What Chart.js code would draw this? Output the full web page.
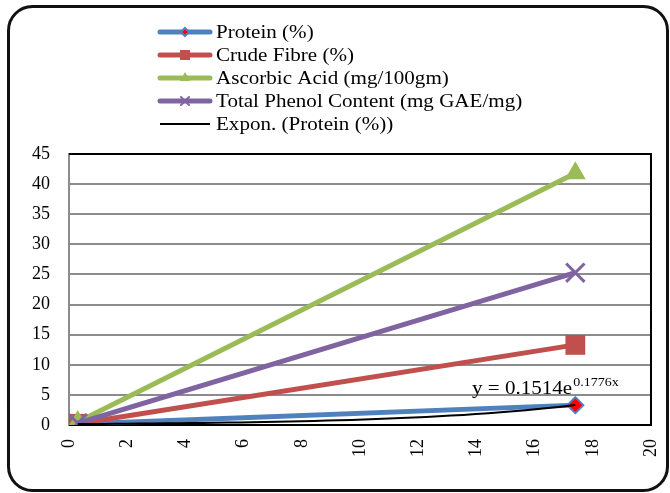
<!DOCTYPE html>
<html>
<head>
<meta charset="utf-8">
<script src="https://cdn.jsdelivr.net/npm/chart.js@4/dist/chart.umd.min.js"></script>
<style>
  html, body { margin: 0; padding: 0; background: #fff; }
  #wrap { width: 670px; height: 493px; position: relative; }
</style>
</head>
<body>
<div id="wrap"><canvas id="c" width="670" height="493"></canvas></div>
<script>
// Sample positions on the x axis
const xValues = [0.3, 17.4];
// Measured values
const protein = [0.16, 3.3];
const crudeFibre = [0.2, 13.3];
const ascorbicAcid = [0.5, 41.8];
const totalPhenol = [0.3, 25.3];
// Exponential trendline coefficients for Protein (%): y = a·e^(b·x)
const trendA = 0.1514;
const trendB = 0.1776;
// Axis ticks
const yTicks = [0, 5, 10, 15, 20, 25, 30, 35, 40, 45];
const xTicks = [0, 2, 4, 6, 8, 10, 12, 14, 16, 18, 20];

const seriesNames = ['Protein (%)', 'Crude Fibre (%)', 'Ascorbic Acid (mg/100gm)', 'Total Phenol Content (mg GAE/mg)', 'Expon. (Protein (%))'];

const toPoints = vals => vals.map((v, i) => ({ x: xValues[i], y: v }));

// Trendline sampled along the fitted curve between the first and last sample
const trendPoints = [];
{
  const steps = 40;
  const x0 = xValues[0], x1 = xValues[xValues.length - 1];
  for (let i = 0; i <= steps; i++) {
    const x = x0 + (x1 - x0) * i / steps;
    trendPoints.push({ x, y: trendA * Math.exp(trendB * x) });
  }
}

const SERIF = '"Liberation Serif", "Times New Roman", serif';
const BLUE = '#4F81BD', RED = '#C0504D', GREEN = '#9BBB59', PURPLE = '#8064A2';
const TEXT_STRETCH = 1.17;

// Draws a marker for the custom legend
function drawMarker(ctx, kind, x, y) {
  ctx.save();
  if (kind === 'diamond') {
    ctx.fillStyle = '#ff0000';
    ctx.strokeStyle = BLUE; ctx.lineWidth = 2;
    ctx.beginPath();
    ctx.moveTo(x, y - 4); ctx.lineTo(x + 4, y); ctx.lineTo(x, y + 4); ctx.lineTo(x - 4, y); ctx.closePath();
    ctx.fill(); ctx.stroke();
  } else if (kind === 'square') {
    ctx.fillStyle = RED;
    ctx.fillRect(x - 5, y - 5, 10, 10);
  } else if (kind === 'triangle') {
    ctx.fillStyle = GREEN;
    ctx.beginPath();
    ctx.moveTo(x, y - 6); ctx.lineTo(x + 5, y + 3); ctx.lineTo(x - 5, y + 3); ctx.closePath();
    ctx.fill();
  } else if (kind === 'cross') {
    ctx.strokeStyle = PURPLE; ctx.lineWidth = 2;
    ctx.beginPath();
    ctx.moveTo(x - 4, y - 4); ctx.lineTo(x + 4, y + 4);
    ctx.moveTo(x + 4, y - 4); ctx.lineTo(x - 4, y + 4);
    ctx.stroke();
  }
  ctx.restore();
}

// Text drawn slightly widened, like the rest of the figure's lettering
function wideText(ctx, text, x, y) {
  ctx.save();
  ctx.translate(x, y);
  ctx.scale(TEXT_STRETCH, 1);
  ctx.fillText(text, 0, 0);
  const w = ctx.measureText(text).width * TEXT_STRETCH;
  ctx.restore();
  return w;
}

const frameAndLegend = {
  id: 'frameAndLegend',
  beforeDraw(chart) {
    const ctx = chart.ctx;
    ctx.save();
    ctx.fillStyle = '#fff';
    ctx.fillRect(0, 0, chart.width, chart.height);
    ctx.restore();
  },
  beforeDatasetsDraw(chart) {
    // black plot border on top, right and bottom
    const { ctx, chartArea: a } = chart;
    ctx.save();
    ctx.strokeStyle = '#000';
    ctx.lineWidth = 2;
    ctx.beginPath();
    ctx.moveTo(a.left, a.top); ctx.lineTo(a.right, a.top); ctx.lineTo(a.right, a.bottom); ctx.lineTo(a.left, a.bottom);
    ctx.stroke();
    ctx.restore();
  },
  afterDraw(chart) {
    const ctx = chart.ctx;
    // rounded outer frame
    ctx.save();
    ctx.strokeStyle = '#111';
    ctx.lineWidth = 3;
    ctx.beginPath();
    ctx.roundRect(8.5, 6.5, 659, 484, 24);
    ctx.stroke();
    ctx.restore();

    // legend
    const rows = [
      { color: BLUE, width: 5, marker: 'diamond' },
      { color: RED, width: 5, marker: 'square' },
      { color: GREEN, width: 5, marker: 'triangle' },
      { color: PURPLE, width: 5, marker: 'cross' },
      { color: '#000', width: 2, marker: null }
    ];
    const x0 = 158, x1 = 212, tx = 216;
    const ys = [32, 55, 78, 101, 124];
    ctx.save();
    ctx.font = '18px ' + SERIF;
    ctx.textBaseline = 'middle';
    ctx.fillStyle = '#000';
    rows.forEach((r, i) => {
      const y = ys[i];
      ctx.strokeStyle = r.color;
      ctx.lineWidth = r.width;
      ctx.lineCap = r.marker ? 'round' : 'butt';
      ctx.beginPath(); ctx.moveTo(x0 + 2, y); ctx.lineTo(x1 - 2, y); ctx.stroke();
      if (r.marker) drawMarker(ctx, r.marker, (x0 + x1) / 2, y);
      wideText(ctx, seriesNames[i], tx, y + 1);
    });
    ctx.restore();

    // trendline equation
    ctx.save();
    ctx.fillStyle = '#000';
    ctx.textBaseline = 'alphabetic';
    ctx.font = '18px ' + SERIF;
    const w = wideText(ctx, 'y = ' + trendA + 'e', 472, 394);
    ctx.font = '12px ' + SERIF;
    wideText(ctx, trendB + 'x', 472 + w + 1, 386);
    ctx.restore();
  }
};

new Chart(document.getElementById('c'), {
  type: 'scatter',
  data: {
    datasets: [
      {
        label: seriesNames[0], data: toPoints(protein), showLine: true,
        borderColor: BLUE, borderWidth: 5, backgroundColor: '#ff0000',
        pointStyle: 'rectRot', pointRadius: 8, pointBorderColor: BLUE, pointBorderWidth: 2,
        order: 4
      },
      {
        label: seriesNames[1], data: toPoints(crudeFibre), showLine: true,
        borderColor: RED, borderWidth: 5, backgroundColor: RED,
        pointStyle: 'rect', pointRadius: 14, pointBorderWidth: 0,
        order: 3
      },
      {
        label: seriesNames[2], data: toPoints(ascorbicAcid), showLine: true,
        borderColor: GREEN, borderWidth: 5, backgroundColor: GREEN,
        pointStyle: 'triangle', pointRadius: 12, pointBorderWidth: 0,
        order: 2
      },
      {
        label: seriesNames[3], data: toPoints(totalPhenol), showLine: true,
        borderColor: PURPLE, borderWidth: 5, backgroundColor: PURPLE,
        pointStyle: 'cross', rotation: 45, pointRadius: 13, pointBorderWidth: 3,
        order: 1
      },
      {
        label: seriesNames[4], data: trendPoints, showLine: true,
        borderColor: '#000', borderWidth: 2, pointRadius: 0,
        order: 0
      }
    ]
  },
  options: {
    responsive: false,
    animation: false,
    layout: { padding: { left: 8, right: 19, top: 154, bottom: 26 } },
    plugins: { legend: { display: false }, tooltip: { enabled: false } },
    scales: {
      x: {
        type: 'linear', min: 0, max: 20,
        afterFit(s) { s.height = 42; s.paddingLeft = 0; s.paddingRight = 0; },
        afterBuildTicks(s) { s.ticks = xTicks.map(v => ({ value: v })); },
        grid: { display: false, drawTicks: false },
        border: { display: true, color: '#000', width: 2 },
        ticks: {
          color: '#000', font: { family: SERIF, size: 18 },
          maxRotation: 90, minRotation: 90, padding: 14
        }
      },
      y: {
        type: 'linear', min: 0, max: 45,
        afterFit(s) { s.width = 61; s.paddingTop = 0; s.paddingBottom = 0; },
        afterBuildTicks(s) { s.ticks = yTicks.map(v => ({ value: v })); },
        grid: { color: '#8c8c8c', lineWidth: 2, drawTicks: false },
        border: { display: true, color: '#8c8c8c', width: 2 },
        ticks: { color: '#000', font: { family: SERIF, size: 18 }, padding: 19 }
      }
    }
  },
  plugins: [frameAndLegend]
});
</script>
</body>
</html>
